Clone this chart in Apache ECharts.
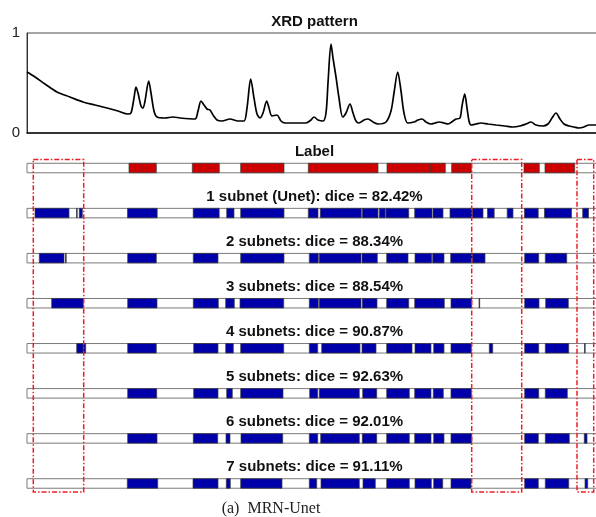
<!DOCTYPE html>
<html>
<head>
<meta charset="utf-8">
<script src="https://cdn.jsdelivr.net/npm/echarts@6.0.0/dist/echarts.min.js"></script>
<style>
  html, body { margin: 0; padding: 0; background: #fff; }
  #chart { width: 596px; height: 517px; }
</style>
</head>
<body>
<div id="chart"></div>
<script>
// XRD pattern: position along the scan (0..573) and normalised intensity
const xrdPos = [0, 8, 18, 30, 43, 56, 68, 80, 91, 101, 104, 107, 109, 111, 114, 116, 118, 121.7, 124, 127, 130, 138, 146, 153, 168, 171, 174, 177, 180, 183, 186, 190, 195, 203, 211, 217, 220, 223.7, 227, 230, 233, 236, 239.7, 242, 245, 250, 254, 258, 270, 279, 284, 287, 291, 296, 299, 301, 304, 306, 309, 312, 315.7, 319, 323, 326, 329, 332, 337, 341, 346, 351, 359, 364, 367, 370.7, 374, 377, 380.7, 387, 391, 395, 399, 404, 408, 412, 417, 421, 426, 429, 433, 435, 437.7, 440, 442, 444, 449, 454, 461, 469, 478, 485.7, 493, 499, 504, 509, 515.7, 521, 525, 529, 533, 537, 542, 547, 552, 557, 562, 569, 573];
const xrdVal = [0.61, 0.56, 0.49, 0.41, 0.36, 0.31, 0.28, 0.25, 0.22, 0.19, 0.20, 0.35, 0.46, 0.40, 0.27, 0.25, 0.32, 0.52, 0.40, 0.22, 0.16, 0.15, 0.16, 0.15, 0.14, 0.22, 0.32, 0.28, 0.24, 0.23, 0.18, 0.13, 0.12, 0.14, 0.12, 0.12, 0.25, 0.54, 0.35, 0.19, 0.15, 0.20, 0.32, 0.25, 0.17, 0.18, 0.12, 0.10, 0.10, 0.10, 0.13, 0.16, 0.13, 0.12, 0.20, 0.50, 0.89, 0.75, 0.56, 0.35, 0.16, 0.20, 0.29, 0.20, 0.12, 0.10, 0.13, 0.14, 0.11, 0.09, 0.11, 0.22, 0.40, 0.61, 0.42, 0.20, 0.10, 0.11, 0.13, 0.14, 0.11, 0.09, 0.10, 0.11, 0.10, 0.09, 0.12, 0.14, 0.15, 0.27, 0.39, 0.25, 0.12, 0.08, 0.09, 0.10, 0.09, 0.08, 0.07, 0.06, 0.07, 0.09, 0.11, 0.08, 0.07, 0.09, 0.15, 0.20, 0.14, 0.09, 0.07, 0.06, 0.05, 0.06, 0.08, 0.08, 0.08];

// Row headings, top to bottom
const rowTitles = [
  'Label',
  '1 subnet (Unet): dice = 82.42%',
  '2 subnets: dice = 88.34%',
  '3 subnets: dice = 88.54%',
  '4 subnets: dice = 90.87%',
  '5 subnets: dice = 92.63%',
  '6 subnets: dice = 92.01%',
  '7 subnets: dice = 91.11%'
];

// Ground-truth label segments [start, end]
const labelSegs = [[102, 114.7], [114.7, 129.3], [165.3, 192.3], [213.7, 257], [281.3, 351], [360, 404], [404, 418.3], [424.7, 432.3], [432.3, 444.3], [497, 512.3], [518, 547.7]];

// Predicted segments for 1..7 subnets [start, end]
const pred1 = [[8, 42], [49.5, 50.2], [52.3, 55.3], [100.5, 130.2], [166.2, 192.2], [199.7, 207], [213.7, 257], [281.3, 291], [293.3, 334.3], [335.3, 351], [352.3, 358.3], [359, 381.7], [387.7, 405], [406, 416], [423, 445], [445.5, 456], [460.5, 467.2], [480.2, 486], [497.5, 511.2], [517.5, 544.5], [555.7, 561.5]];
const pred2 = [[12.3, 37], [38.5, 39.2], [100.7, 129.3], [166.3, 191], [213.7, 257], [282.3, 291.3], [292.3, 334], [335, 350.3], [359.7, 381], [388, 404.7], [405.7, 417], [423.7, 445.7], [445.7, 458], [497.7, 511.7], [518.3, 539.7]];
const pred3 = [[24.7, 56.3], [100.7, 130], [166.3, 191.3], [198.7, 207.3], [213, 256.7], [282.3, 291.3], [292.3, 334], [335.3, 350], [359.7, 381.7], [387.7, 417.3], [424, 444.7], [452, 452.7], [497.7, 512], [518.7, 541.3]];
const pred4 = [[49.7, 56.3], [56.3, 58.7], [100.7, 129.3], [166.7, 191], [198.7, 206.3], [213.7, 256.7], [282.3, 290.7], [294.7, 333], [335, 349], [359.7, 385], [388, 404], [406.7, 417], [424, 444.3], [462.3, 465.7], [497.7, 511.7], [518.3, 541.7], [557.5, 558.2]];
const pred5 = [[100.7, 129.7], [166.7, 191], [199.7, 205.3], [213.7, 256], [282.7, 290.7], [292.3, 332.3], [335.7, 349.7], [359.7, 382.3], [387.7, 404], [406.3, 416.3], [424, 444.3], [497.7, 511.7], [518.3, 540.3]];
const pred6 = [[100.7, 130], [166.3, 190.7], [199, 203], [214, 255.7], [282.3, 290.7], [293.7, 332.3], [335.3, 349.7], [359.7, 382.3], [387.7, 404], [406.7, 417], [424, 444.7], [497.7, 511.3], [518.3, 542.3], [557.3, 560]];
const pred7 = [[100.3, 130.7], [166, 191], [199.3, 203.3], [213.7, 255], [282.3, 289.7], [294, 332.3], [336, 348.3], [359.7, 382.3], [388, 404.3], [406.7, 415.7], [424, 444], [497.7, 511.3], [518.3, 541.7], [558, 560.7]];

// Regions highlighted with dash-dot frames [start, end]
const frameSpans = [[6.3, 56.7], [444.7, 494.7], [550, 566.7]];

const scanMax = 573;

const chart = echarts.init(document.getElementById('chart'), null, { renderer: 'canvas' });

const FONT = '"Liberation Sans", Arial, Helvetica, sans-serif';
const BLUE = '#0000aa';
const RED = '#cc0000';

const segData = [];
labelSegs.forEach(s => segData.push([s[0], s[1], 0, 1]));
[pred1, pred2, pred3, pred4, pred5, pred6, pred7].forEach((rows, i) => {
  rows.forEach(s => segData.push([s[0], s[1], i + 1, 0]));
});

const BAR_H = 9.5;

const option = {
  animation: false,
  backgroundColor: '#fff',
  grid: [
    { left: 27, top: 33, width: scanMax, height: 100, show: true, borderColor: '#4a4a4a', borderWidth: 1,
      outerBoundsMode: 'none', containLabel: false },
    { left: 27, top: 145.5, width: scanMax, height: 360.5, outerBoundsMode: 'none', containLabel: false }
  ],
  xAxis: [
    { gridIndex: 0, type: 'value', min: 0, max: scanMax,
      axisLine: { show: true, lineStyle: { color: '#111', width: 1.5 } },
      axisTick: { show: false }, axisLabel: { show: false }, splitLine: { show: false } },
    { gridIndex: 1, type: 'value', min: 0, max: scanMax, show: false }
  ],
  yAxis: [
    { gridIndex: 0, type: 'value', min: 0, max: 1, interval: 1,
      axisLine: { show: true, lineStyle: { color: '#333', width: 1 } },
      axisTick: { show: false },
      axisLabel: { color: '#222', fontSize: 15, fontFamily: FONT, margin: 7 },
      splitLine: { show: false } },
    { gridIndex: 1, type: 'category', inverse: true, show: false,
      data: rowTitles, boundaryGap: true }
  ],
  graphic: [
    { type: 'text', x: 27 + scanMax / 2 + 1, y: 21.5,
      style: { text: 'XRD pattern', font: 'bold 15px ' + FONT, fill: '#111',
               textAlign: 'center', textVerticalAlign: 'middle' } },
    { type: 'text', x: 271, y: 509,
      style: { text: '(a)  MRN-Unet', font: '16px "Liberation Serif", "Times New Roman", serif', fill: '#222',
               textAlign: 'center', textVerticalAlign: 'middle' } }
  ],
  series: [
    {
      type: 'line', xAxisIndex: 0, yAxisIndex: 0,
      data: xrdPos.map((p, i) => [p, xrdVal[i]]),
      showSymbol: false, smooth: 0.3,
      lineStyle: { color: '#000', width: 1.7 }
    },
    {
      // empty track of every row
      type: 'custom', xAxisIndex: 1, yAxisIndex: 1,
      data: rowTitles.map((t, i) => [0, scanMax, i]),
      renderItem: (params, api) => {
        const a = api.coord([api.value(0), api.value(2)]);
        const b = api.coord([api.value(1), api.value(2)]);
        return { type: 'rect',
          shape: { x: a[0], y: a[1] - BAR_H / 2, width: b[0] - a[0], height: BAR_H },
          style: { fill: '#fff', stroke: '#7a7a7a', lineWidth: 1 } };
      }
    },
    {
      // row headings
      type: 'custom', xAxisIndex: 1, yAxisIndex: 1,
      data: rowTitles.map((t, i) => [scanMax / 2, i]),
      renderItem: (params, api) => {
        const p = api.coord([api.value(0), api.value(1)]);
        return { type: 'text', x: p[0] + 1, y: p[1] - 16.5,
          style: { text: rowTitles[params.dataIndex], font: 'bold 15px ' + FONT, fill: '#111',
                   textAlign: 'center', textVerticalAlign: 'middle' } };
      }
    },
    {
      // label / prediction segments
      type: 'custom', xAxisIndex: 1, yAxisIndex: 1,
      data: segData,
      renderItem: (params, api) => {
        const a = api.coord([api.value(0), api.value(2)]);
        const b = api.coord([api.value(1), api.value(2)]);
        const isLabel = api.value(3) === 1;
        return { type: 'rect',
          shape: { x: a[0], y: a[1] - BAR_H / 2, width: Math.max(b[0] - a[0], 0.6), height: BAR_H },
          style: { fill: isLabel ? RED : BLUE, stroke: '#3a3a3a', lineWidth: 0.7 } };
      }
    },
    {
      // dash-dot frames
      type: 'custom', xAxisIndex: 1, yAxisIndex: 1,
      data: frameSpans,
      renderItem: (params, api) => {
        const a = api.coord([api.value(0), 0]);
        const b = api.coord([api.value(1), rowTitles.length - 1]);
        const y0 = a[1] - 8.5, y1 = b[1] + 8.5;
        return { type: 'rect',
          shape: { x: a[0], y: y0, width: b[0] - a[0], height: y1 - y0 },
          style: { fill: 'none', stroke: '#ee1c25', lineWidth: 1.5, lineDash: [5, 2, 1.5, 2] } };
      }
    }
  ]
};

chart.setOption(option);
</script>
</body>
</html>
